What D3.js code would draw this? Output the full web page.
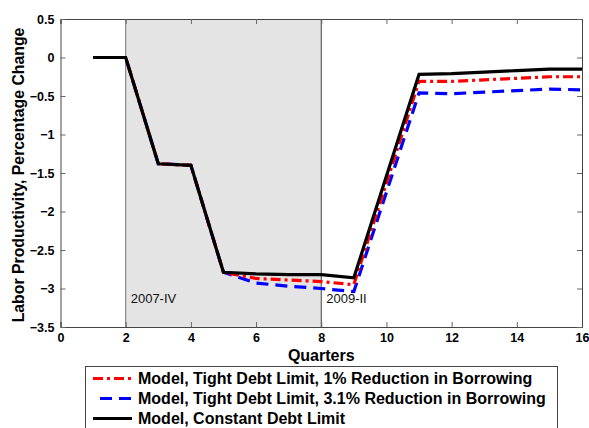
<!DOCTYPE html>
<html>
<head>
<meta charset="utf-8">
<script src="https://cdn.jsdelivr.net/npm/d3@7"></script>
<style>
  body { margin: 0; background: white; }
  text { font-family: "Liberation Sans", Arial, sans-serif; }
</style>
</head>
<body>
<div id="chart"></div>
<script>
// quarters and the three model paths
const quarters = [1, 2, 3, 4, 5, 6, 7, 8, 9, 10, 11, 12, 13, 14, 15, 16];
const tight1 = [0, 0, -1.38, -1.40, -2.79, -2.87, -2.89, -2.91, -2.95, -1.63, -0.31, -0.31, -0.29, -0.27, -0.25, -0.25];
const tight31 = [0, 0, -1.38, -1.40, -2.79, -2.93, -2.97, -3.00, -3.04, -1.75, -0.46, -0.47, -0.45, -0.43, -0.41, -0.42];
const constant = [0, 0, -1.38, -1.40, -2.79, -2.81, -2.82, -2.82, -2.86, -1.54, -0.22, -0.21, -0.19, -0.17, -0.15, -0.15];
const xTicks = [0, 2, 4, 6, 8, 10, 12, 14, 16];
const yTicks = [0.5, 0, -0.5, -1, -1.5, -2, -2.5, -3, -3.5];
const recession = [2, 8];
const recessionLabels = ["2007-IV", "2009-II"];
const legendNames = [
    "Model, Tight Debt Limit, 1% Reduction in Borrowing",
    "Model, Tight Debt Limit, 3.1% Reduction in Borrowing",
    "Model, Constant Debt Limit"
];

const width = 589, height = 428;
const margin = { top: 19, right: 7, bottom: 101, left: 60.5 };

const svg = d3.select("#chart").append("svg")
    .attr("width", width)
    .attr("height", height);

const x = d3.scaleLinear().domain([0, 16])
    .range([margin.left, width - margin.right]);
const y = d3.scaleLinear().domain([-3.5, 0.5])
    .range([height - margin.bottom, margin.top]);

// recession shading
svg.append("rect")
    .attr("x", x(recession[0]))
    .attr("y", y(0.5))
    .attr("width", x(recession[1]) - x(recession[0]))
    .attr("height", y(-3.5) - y(0.5))
    .attr("fill", "#e4e4e4");

svg.selectAll("line.rec")
    .data(recession)
    .enter().append("line")
    .attr("class", "rec")
    .attr("x1", d => x(d)).attr("x2", d => x(d))
    .attr("y1", y(0.5)).attr("y2", y(-3.5))
    .attr("stroke", (d, i) => i === 0 ? "#777" : "#444")
    .attr("stroke-width", 1);

svg.selectAll("text.rec")
    .data(recessionLabels)
    .enter().append("text")
    .attr("class", "rec")
    .attr("x", (d, i) => x(recession[i]) + 5)
    .attr("y", 303)
    .attr("font-size", "13px")
    .attr("fill", "#111")
    .text(d => d);

// axes
svg.append("g")
    .attr("transform", `translate(0,${y(-3.5)})`)
    .call(d3.axisBottom(x).tickValues(xTicks).tickSize(-5).tickPadding(6).tickFormat(d3.format("d")));
svg.append("g")
    .attr("transform", `translate(0,${y(0.5)})`)
    .call(d3.axisTop(x).tickValues(xTicks).tickSize(-5).tickFormat(""));
svg.append("g")
    .attr("transform", `translate(${x(0)},0)`)
    .call(d3.axisLeft(y).tickValues(yTicks).tickSize(-5).tickPadding(6).tickFormat(d3.format("")));
svg.append("g")
    .attr("transform", `translate(${x(16)},0)`)
    .call(d3.axisRight(y).tickValues(yTicks).tickSize(-5).tickFormat(""));

svg.selectAll(".domain").attr("stroke", "#444");
svg.selectAll(".tick line").attr("stroke", "#666");
svg.selectAll(".tick text")
    .attr("font-family", "Liberation Sans, Arial, sans-serif")
    .attr("font-size", "12.5px")
    .attr("font-weight", "bold")
    .attr("fill", "#000");

// lines
const line = d3.line()
    .x((d, i) => x(quarters[i]))
    .y(d => y(d));

const series = [
    { values: tight31, color: "#0000ff", dash: "12,7" },
    { values: tight1, color: "#ff0000", dash: "10,4,3,4" },
    { values: constant, color: "#000000", dash: null }
];

series.forEach(s => {
    svg.append("path")
        .datum(s.values)
        .attr("fill", "none")
        .attr("stroke", s.color)
        .attr("stroke-width", 3.2)
        .attr("stroke-dasharray", s.dash)
        .attr("d", line);
});

// axis titles
svg.append("text")
    .attr("x", x(8))
    .attr("y", 361)
    .attr("text-anchor", "middle")
    .attr("font-size", "16px")
    .attr("font-weight", "bold")
    .text("Quarters");

svg.append("text")
    .attr("transform", "rotate(-90)")
    .attr("x", -175)
    .attr("y", 24)
    .attr("text-anchor", "middle")
    .attr("font-size", "15.8px")
    .attr("font-weight", "bold")
    .text("Labor Productivity, Percentage Change");

// legend
const legend = svg.append("g");
legend.append("rect")
    .attr("x", 85.5).attr("y", 366.5)
    .attr("width", 472).attr("height", 70)
    .attr("fill", "white")
    .attr("stroke", "#444");

const legendStyle = [
    { color: "#ff0000", dash: "10,4,3,4", x1: 93 },
    { color: "#0000ff", dash: "12,7", x1: 100 },
    { color: "#000000", dash: null, x1: 93 }
];

legendNames.forEach((name, i) => {
    const ly = 378.5 + i * 20;
    legend.append("line")
        .attr("x1", legendStyle[i].x1).attr("x2", 132)
        .attr("y1", ly).attr("y2", ly)
        .attr("stroke", legendStyle[i].color)
        .attr("stroke-width", 3.2)
        .attr("stroke-dasharray", legendStyle[i].dash);
    legend.append("text")
        .attr("x", 138)
        .attr("y", ly + 5.5)
        .attr("font-size", "16px")
        .attr("font-weight", "bold")
        .text(name);
});
</script>
</body>
</html>
